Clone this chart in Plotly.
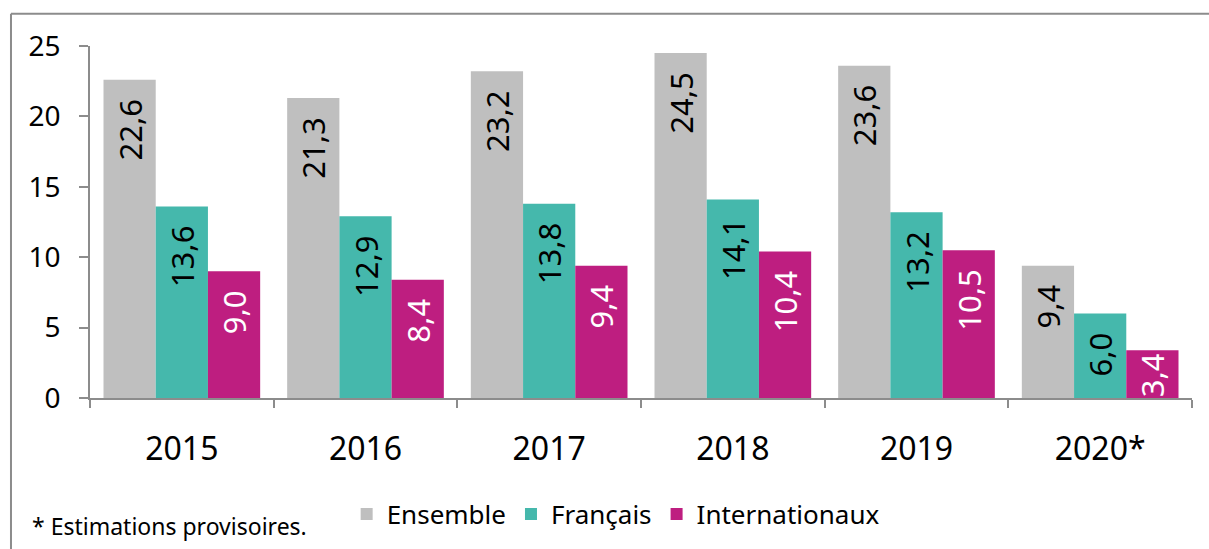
import plotly.graph_objects as go

years = ["2015", "2016", "2017", "2018", "2019", "2020*"]
ensemble = [22.6, 21.3, 23.2, 24.5, 23.6, 9.4]
francais = [13.6, 12.9, 13.8, 14.1, 13.2, 6.0]
internationaux = [9.0, 8.4, 9.4, 10.4, 10.5, 3.4]
series_names = ["Ensemble", "Français", "Internationaux"]
colors = ["#BFBFBF", "#45B8AC", "#BE1E80"]
text_colors = ["black", "black", "white"]
y_ticks = [0, 5, 10, 15, 20, 25]
footnote = "* Estimations provisoires."

FONT = "Noto Sans"


def fmt(v):
    s = f"{v:.1f}".replace(".", ",")
    # small internal margin at the bar end, like the original labels
    return s + ("\u00a0\u00a0" if v > 5 else "")


fig = go.Figure()
for name, vals, col, tcol in zip(series_names, [ensemble, francais, internationaux], colors, text_colors):
    fig.add_trace(go.Bar(
        x=years, y=vals, name=name,
        marker=dict(color=col, line=dict(width=0)),
        text=[fmt(v) for v in vals],
        textposition="inside", insidetextanchor="end", textangle=-90,
        constraintext="none",
        insidetextfont=dict(family=FONT, size=31, color=tcol),
        hoverinfo="x+y+name",
    ))

axis_col = "#8C8C8C"
fig.update_layout(
    width=1209, height=549,
    margin=dict(l=90, r=17, t=46, b=147),
    paper_bgcolor="white", plot_bgcolor="white",
    barmode="group", bargap=0.147, bargroupgap=0,
    font=dict(family=FONT, color="black"),
    showlegend=True,
    legend=dict(orientation="h", x=0.477, y=-0.33, xanchor="center", yanchor="middle",
                font=dict(family=FONT, size=26), bgcolor="rgba(0,0,0,0)",
                itemsizing="constant", traceorder="normal"),
    xaxis=dict(showline=True, linecolor=axis_col, linewidth=1.5,
               ticks="outside", tickson="boundaries", ticklen=8, tickcolor=axis_col, tickwidth=1.5,
               tickfont=dict(family=FONT, size=32), ticklabelstandoff=22,
               showgrid=False, zeroline=False, fixedrange=True),
    yaxis=dict(range=[0, 25], tickvals=y_ticks, showline=True, linecolor=axis_col, linewidth=1.5,
               ticks="outside", ticklen=9, tickcolor=axis_col, tickwidth=1.5,
               tickfont=dict(family=FONT, size=28), ticklabelstandoff=13,
               showgrid=False, zeroline=False, fixedrange=True),
    annotations=[dict(text=footnote, xref="paper", yref="paper", x=-0.0544, y=-0.365,
                      xanchor="left", yanchor="middle", showarrow=False,
                      font=dict(family=FONT, size=23, color="black"))],
    shapes=[
        dict(type="line", xref="paper", yref="paper", x0=-0.0717, x1=1.02, y0=1.0913, y1=1.0913,
             line=dict(color="#8C8C8C", width=2)),
        dict(type="line", xref="paper", yref="paper", x0=-0.0717, x1=-0.0717, y0=1.0913, y1=-0.45,
             line=dict(color="#8C8C8C", width=2)),
    ],
)

fig.write_html("out.html")
